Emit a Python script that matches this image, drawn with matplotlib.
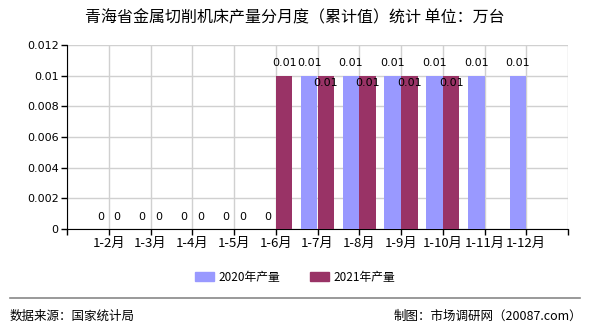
import numpy as np
import matplotlib
matplotlib.use("Agg")
import matplotlib.pyplot as plt
from matplotlib.patches import Patch
from matplotlib.lines import Line2D

plt.rcParams['font.family'] = ['Noto Sans CJK SC', 'DejaVu Sans']

# Data
categories = ["1-2月", "1-3月", "1-4月", "1-5月", "1-6月", "1-7月",
              "1-8月", "1-9月", "1-10月", "1-11月", "1-12月"]
values_2020 = [0, 0, 0, 0, 0, 0.01, 0.01, 0.01, 0.01, 0.01, 0.01]
values_2021 = [0, 0, 0, 0, 0.01, 0.01, 0.01, 0.01, 0.01, None, None]
series_names = ["2020年产量", "2021年产量"]
yticks = [0, 0.002, 0.004, 0.006, 0.008, 0.01, 0.012]
ytick_labels = ["0", "0.002", "0.004", "0.006", "0.008", "0.01", "0.012"]

C2020 = "#9999ff"
C2021 = "#993366"

fig = plt.figure(figsize=(5.9, 3.3), dpi=100)
ax = fig.add_axes([67/590, 1 - 229/330, (568 - 67)/590, (229 - 45)/330])

x = np.arange(len(categories))
w = 0.4
for i, (a, b) in enumerate(zip(values_2020, values_2021)):
    if a is not None:
        ax.bar(x[i] - w/2, a, w, color=C2020, zorder=3)
        lab = "0" if a == 0 else f"{a:g}"
        ax.annotate(lab, (x[i] - w/2, a), xytext=(0, 9), textcoords="offset points",
                    ha="center", va="center", fontsize=8, family="DejaVu Sans", zorder=4)
    if b is not None:
        ax.bar(x[i] + w/2, b, w, color=C2021, zorder=3)
        lab = "0" if b == 0 else f"{b:g}"
        off = 9
        if a is not None and a == b and b != 0:
            off = -5  # collision with 2020 label
        ax.annotate(lab, (x[i] + w/2, b), xytext=(0, off), textcoords="offset points",
                    ha="center", va="center", fontsize=8, family="DejaVu Sans", zorder=4)

ax.set_xlim(-1, len(categories))
ax.set_ylim(0, 0.012)
ax.set_yticks(yticks)
ax.set_yticklabels(ytick_labels, family="DejaVu Sans", fontsize=8)
ax.set_xticks(np.arange(-1, len(categories) + 1))
ax.set_xticklabels([""] + categories + [""], fontsize=9.5)
ax.tick_params(axis="both", length=4, width=1, color="black", pad=2)
ax.grid(True, color="#d0d0d0", linewidth=1, zorder=0)
ax.set_axisbelow(True)
for s in ["top", "right"]:
    ax.spines[s].set_visible(False)
ax.spines["left"].set_color("black")
ax.spines["bottom"].set_color("black")

fig.text(0.5, 1 - 18/330, "青海省金属切削机床产量分月度（累计值）统计 单位：万台",
         ha="center", va="center", fontsize=11.5)

handles = [Patch(color=C2020), Patch(color=C2021)]
fig.legend(handles, series_names, loc="center", bbox_to_anchor=(0.5, 1 - 277/330),
           ncol=2, frameon=False, fontsize=8.5, handlelength=1.6, handleheight=0.7,
           columnspacing=2.5, handletextpad=0.4)

fig.add_artist(Line2D([10/590, 580/590], [1 - 298/330] * 2, color="#888888", linewidth=1.2))
fig.text(10/590, 1 - 316/330, "数据来源：国家统计局", ha="left", va="center", fontsize=9)
fig.text(582/590, 1 - 316/330, "制图：市场调研网（20087.com）", ha="right", va="center", fontsize=9)

fig.savefig("out.png", dpi=100)
